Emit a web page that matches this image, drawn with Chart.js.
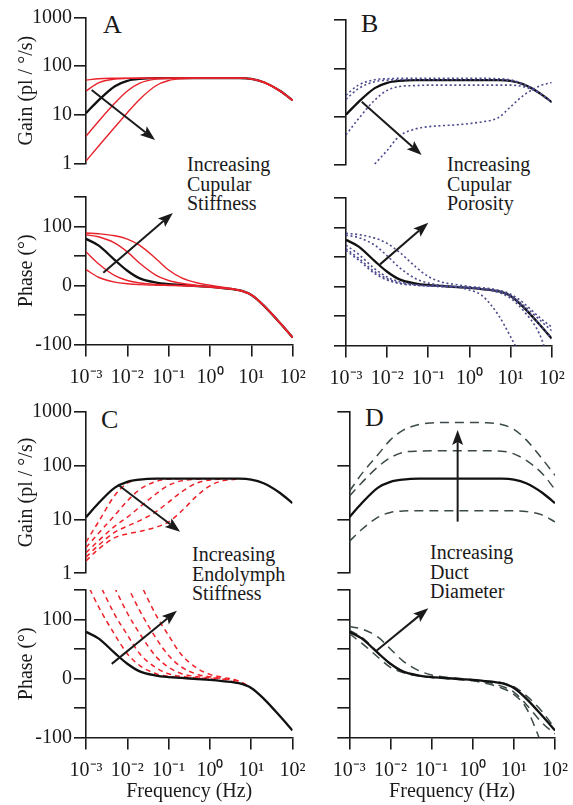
<!DOCTYPE html>
<html><head><meta charset="utf-8">
<script src="https://cdn.jsdelivr.net/npm/chart.js@4"></script>
<style>
html,body{margin:0;padding:0;background:#fff;}
body{width:573px;height:805px;position:relative;overflow:hidden;font-family:"Liberation Serif","Times New Roman",serif;color:#1a1a1a;}
canvas{position:absolute;}
.lbl{position:absolute;font-size:26px;line-height:26px;white-space:nowrap;}
.note{position:absolute;font-size:20px;line-height:19.5px;white-space:nowrap;}
</style></head><body>
<div class="lbl" style="left:103px;top:12px;">A</div>
<div class="lbl" style="left:361px;top:11px;">B</div>
<div class="lbl" style="left:101px;top:407px;">C</div>
<div class="lbl" style="left:365px;top:405px;">D</div>
<div class="note" style="left:187px;top:155px;">Increasing<br>Cupular<br>Stiffness</div>
<div class="note" style="left:447px;top:155px;">Increasing<br>Cupular<br>Porosity</div>
<div class="note" style="left:192px;top:545px;">Increasing<br>Endolymph<br>Stiffness</div>
<div class="note" style="left:430px;top:543px;">Increasing<br>Duct<br>Diameter</div>
<script>
// ---------- data ----------
const freq = [0.001,0.002,0.005,0.01,0.02,0.05,0.1,0.2,0.5,1,2,5,10,20,50,100];
const xTickValues = [0.001,0.01,0.1,1,10,100];
const xTickLabels = ['10\u207B\u00B3','10\u207B\u00B2','10\u207B\u00B9','10\u2070','10\u00B9','10\u00B2'];
const gainTickValues = [1,10,100,1000];
const gainTickLabels = ['1','10','100','1000'];
const phaseTickValues = [-100,-50,0,50,100,150];
const phaseTickLabels = ['-100','','0','','100',''];

// reference (black) model
const refGain  = [11,20,39,50,55,57,57,57,57,57,57,57,55,47,31,20];
const refPhase = [79,68,43,25,12,5,2.5,1,-1,-2.5,-4.5,-8,-16,-34,-64,-88];

// A: cupular stiffness (red solid)
const stiffGain1 = [52,55.5,56.7,57,57,57,57,57,57,57,57,57,55,47,31,20];
const stiffGain2 = [31,45.6,54.6,56.3,56.8,57,57,57,57,57,57,57,55,47,31,20];
const stiffGain3 = [3.7,7.4,17.6,31,45,54.5,56.4,56.8,57,57,57,57,55,47,31,20];
const stiffGain4 = [1.15,2.3,5.7,11.2,21.2,40.3,51,55.3,56.7,57,57,57,55,47,31,20];
const stiffPhase1 = [27,14,5.7,3,1.5,0.5,0,-0.5,-1.5,-2.5,-4.5,-8,-16,-34,-64,-88];
const stiffPhase2 = [57,37,16.7,8.5,4.3,1.7,0.7,0,-1.3,-2.5,-4.5,-8,-16,-34,-64,-88];
const stiffPhase3 = [86,82.6,72,57,37.6,17,8.5,3.8,0,-2,-4.5,-8,-16,-34,-64,-88];
const stiffPhase4 = [89,87.7,84.3,78.7,68,45,26.3,13.4,4.2,0.5,-3,-8,-16,-34,-64,-88];

// B: cupular porosity (blue dotted)
const poroGain1 = [28,45,58,61,62,62,62,62,62,62,62,61,58,47,31,20];
const poroGain2 = [23,38,53,57,58,58,58,58,58,58,58,57.5,55,47,31,20];
const poroGain3 = [4.2,9,22,35,42,44,45,45,45,45,45,45,45,42,31,20];
const poroGain4 = [null,null,1.05,2.0,4.0,5.6,6.2,6.5,6.8,7.2,7.8,9.5,16,27,43,51];
const poroPhase1 = [90,88,82,73,58,33,17,8,3,0,-2,-6,-13,-27,-52,-69];
const poroPhase2 = [87,83,70,52,32,13,6,2,-1,-6,-15,-48,-85,-125,null,null];
const poroPhase3 = [70,55,30,16,8,3,1,0.5,0,-2,-4,-8,-16,-31,-56,-75];
const poroPhase4 = [64,48,25,13,6,2.5,1,0,-1,-2,-4,-10,-20,-40,-80,-140];
const poroPhase5 = [61,45,22,11,5,2,1,0,-1,-2.5,-4.5,-8,-16,-34,-64,-88];

// C: endolymph stiffness (red dashed)
const endoGain1 = [3.8,9,28,47,55,57,null,null,null,null,null,null,null,null,null,null];
const endoGain2 = [3,5.5,12,22,36,51,56,57,null,null,null,null,null,null,null,null];
const endoGain3 = [2.4,4,7.5,11,17,30,43,52,56,57,null,null,null,null,null,null];
const endoGain4 = [2,3.3,5.8,7.5,9.5,14,21,32,48,54,56.5,null,null,null,null,null];
const endoGain5 = [1.7,2.8,4.6,5.4,6,7.2,9,14,28,42,52,56,null,null,null,null];
const endoPhase1 = [165,122,74,42,22,8,3.5,1.5,-0.5,-2.5,null,null,null,null,null,null];
const endoPhase2 = [206,164,108,74,42,18,8,3.5,1,-0.5,-4.5,null,null,null,null,null];
const endoPhase3 = [null,209,153,111,76,37,19,8.5,3,1.2,-1,-8,null,null,null,null];
const endoPhase4 = [null,null,199,157,115,68,39,20,7,2.8,0,-5,-16,null,null,null];
const endoPhase5 = [null,null,null,205,163,107,73,41,17,7,2,-4,-16,null,null,null];

// D: duct diameter (grey dashed)
const ductGain1 = [3.9,6.5,11,13.5,14.3,14.5,14.5,14.5,14.5,14.5,14.5,14.5,14.5,14,12,9];
const ductGain2 = [27,48,95,140,175,186,188,188,188,188,188,185,165,125,70,36];
const ductGain3 = [33,70,160,300,450,580,620,630,630,630,625,580,470,300,130,66];
const ductPhase1 = [88,84,70,50,30,13,6,2.5,0,-2,-4,-7,-14,-29,-57,-85];
const ductPhase2 = [82,70,44,24,12,5,2,0.5,-1,-3,-6,-13,-23,-44,-76,-94];
const ductPhase3 = [76,60,36,19,10,4,1.5,0,-2,-4,-8,-16,-27,-50,-115,null];

// arrows in data coordinates [freq, value]
const arrowAGain  = [[0.00137,32.6],[0.0469,3.1]];
const arrowAPhase = [[0.00262,21.5],[0.126,123]];
const arrowBGain  = [[0.00241,20.4],[0.069,1.61]];
const arrowBPhase = [[0.0067,37.5],[0.1,108]];
const arrowCGain  = [[0.00607,43.5],[0.19,5.9]];
const arrowCPhase = [[0.0042,24.8],[0.159,115]];
const arrowDGain  = [[0.43,9.1],[0.43,455]];
const arrowDPhase = [[0.00464,47.6],[0.083,119]];

// ---------- styles ----------
const INK = '#1a1a1a';
const FONT = {family:'"Liberation Serif","Times New Roman",serif', size:20, lineHeight:1.2};
const STY = {
  ref:  {borderColor:'#111111', borderWidth:2.3},
  red:  {borderColor:'#e8222b', borderWidth:1.4},
  dot:  {borderColor:'#4a4a8e', borderWidth:1.6, borderDash:[2,2.6]},
  rdash:{borderColor:'#ee2028', borderWidth:1.5, borderDash:[5,4]},
  gdash:{borderColor:'#3b4a48', borderWidth:1.5, borderDash:[9,6]}
};

function series(arr, sty){
  return Object.assign({
    data: freq.map((f,i)=>({x:f, y:arr[i]})),
    pointRadius:0, fill:false, cubicInterpolationMode:'monotone', spanGaps:false
  }, sty);
}

function arrowPlugin(arrows){
  return {
    id:'arrows',
    afterDatasetsDraw(chart){
      const ctx = chart.ctx, xs = chart.scales.x, ys = chart.scales.y;
      arrows.forEach(a=>{
        const x1 = xs.getPixelForValue(a[0][0]), y1 = ys.getPixelForValue(a[0][1]);
        const x2 = xs.getPixelForValue(a[1][0]), y2 = ys.getPixelForValue(a[1][1]);
        const ang = Math.atan2(y2-y1, x2-x1), L = 15, W = 5.5;
        const bx = x2 - L*Math.cos(ang), by = y2 - L*Math.sin(ang);
        ctx.save();
        ctx.strokeStyle = INK; ctx.fillStyle = INK; ctx.lineWidth = 2;
        ctx.beginPath(); ctx.moveTo(x1,y1); ctx.lineTo(bx + 3*Math.cos(ang), by + 3*Math.sin(ang)); ctx.stroke();
        ctx.beginPath(); ctx.moveTo(x2,y2);
        ctx.lineTo(bx - W*Math.sin(ang), by + W*Math.cos(ang));
        ctx.lineTo(bx + 3*Math.cos(ang), by + 3*Math.sin(ang));
        ctx.lineTo(bx + W*Math.sin(ang), by - W*Math.cos(ang));
        ctx.closePath(); ctx.fill();
        ctx.restore();
      });
    }
  };
}

function makeChart(rect, area, o){
  const cv = document.createElement('canvas');
  cv.width = rect.w; cv.height = rect.h;
  cv.style.left = rect.x+'px'; cv.style.top = rect.y+'px';
  cv.style.width = rect.w+'px'; cv.style.height = rect.h+'px';
  document.body.appendChild(cv);
  const yw = area.L - rect.x, padTop = area.T - rect.y, padRight = rect.x + rect.w - area.R;
  const bottomSpace = rect.y + rect.h - area.B;
  const isGain = o.kind === 'gain';
  const yTicks = isGain ? gainTickValues : phaseTickValues;
  const yLabels = isGain ? gainTickLabels : phaseTickLabels;
  const axisLine = {display:true, color:INK, width:1.6};
  const gridOpt = {display:true, drawOnChartArea:false, drawTicks:true, tickLength:12, color:INK, lineWidth:1.6};
  return new Chart(cv, {
    type:'line',
    data:{datasets:o.datasets},
    options:{
      responsive:false, animation:false, events:[],
      layout:{padding:{left:0, top:padTop, right:padRight, bottom: isGain ? bottomSpace : 0}},
      plugins:{legend:{display:false}, tooltip:{enabled:false}, title:{display:false}},
      scales:{
        x:{
          type:'logarithmic', min:0.001, max:100, display: !isGain,
          afterBuildTicks: s => { s.ticks = xTickValues.map(v=>({value:v})); },
          afterFit: s => { if (!isGain) { s.height = bottomSpace; } else { s.height = 0; } s.paddingLeft = 0; s.paddingRight = 0; },
          ticks:{autoSkip:false, maxRotation:0, padding:9, color:INK, font:FONT,
                 callback:(v,i)=> xTickLabels[i]},
          grid:gridOpt, border:axisLine,
          title:{display: !!o.xTitle, text:o.xTitle || '', color:INK, font:FONT, padding:{top:0,bottom:1}}
        },
        y:{
          type: isGain ? 'logarithmic' : 'linear',
          min: isGain ? 1 : -100, max: isGain ? 1000 : 150,
          afterBuildTicks: s => { s.ticks = yTicks.map(v=>({value:v})); },
          afterFit: s => { s.width = yw; s.paddingTop = 0; s.paddingBottom = 0; },
          ticks:{autoSkip:false, padding:2, color:INK, font:FONT,
                 callback:(v,i)=> o.yLabels ? yLabels[i] : ''},
          grid:gridOpt, border:axisLine,
          title:{display: !!o.yTitle, text:o.yTitle || '', color:INK, font:FONT, padding:{top:14.5,bottom:0}}
        }
      }
    },
    plugins:[arrowPlugin(o.arrows)]
  });
}

Chart.defaults.font.family = FONT.family;

const LC = {x:0, w:312}, RC = {x:300, w:273};
const GAIN_TITLE = 'Gain (pl / \u00B0/s)', PHASE_TITLE = 'Phase (\u00B0)', FREQ_TITLE = 'Frequency (Hz)';

// A
makeChart({x:LC.x, y:0, w:LC.w, h:180}, {L:86, R:292.7, T:17.3, B:164}, {
  kind:'gain', yLabels:true, yTitle:GAIN_TITLE, arrows:[arrowAGain],
  datasets:[series(stiffGain1,STY.red),series(stiffGain2,STY.red),series(stiffGain3,STY.red),series(stiffGain4,STY.red),series(refGain,STY.ref)]
});
makeChart({x:LC.x, y:185, w:LC.w, h:215}, {L:86, R:292.7, T:197, B:344.5}, {
  kind:'phase', yLabels:true, yTitle:PHASE_TITLE, arrows:[arrowAPhase],
  datasets:[series(stiffPhase1,STY.red),series(stiffPhase2,STY.red),series(stiffPhase3,STY.red),series(stiffPhase4,STY.red),series(refPhase,STY.ref)]
});
// B
makeChart({x:RC.x, y:0, w:RC.w, h:180}, {L:346, R:551.7, T:20, B:165}, {
  kind:'gain', yLabels:false, arrows:[arrowBGain],
  datasets:[series(poroGain1,STY.dot),series(poroGain2,STY.dot),series(poroGain3,STY.dot),series(poroGain4,STY.dot),series(refGain,STY.ref)]
});
makeChart({x:RC.x, y:185, w:RC.w, h:215}, {L:346, R:551.7, T:198, B:345.5}, {
  kind:'phase', yLabels:false, arrows:[arrowBPhase],
  datasets:[series(poroPhase1,STY.dot),series(poroPhase2,STY.dot),series(poroPhase3,STY.dot),series(poroPhase4,STY.dot),series(poroPhase5,STY.dot),series(refPhase,STY.ref)]
});
// C
makeChart({x:LC.x, y:395, w:LC.w, h:190}, {L:86, R:292.5, T:411.7, B:573.3}, {
  kind:'gain', yLabels:true, yTitle:GAIN_TITLE, arrows:[arrowCGain],
  datasets:[series(refGain,STY.ref),series(endoGain1,STY.rdash),series(endoGain2,STY.rdash),series(endoGain3,STY.rdash),series(endoGain4,STY.rdash),series(endoGain5,STY.rdash)]
});
makeChart({x:LC.x, y:580, w:LC.w, h:225}, {L:86, R:292.5, T:590, B:737.5}, {
  kind:'phase', yLabels:true, yTitle:PHASE_TITLE, xTitle:FREQ_TITLE, arrows:[arrowCPhase],
  datasets:[series(refPhase,STY.ref),series(endoPhase1,STY.rdash),series(endoPhase2,STY.rdash),series(endoPhase3,STY.rdash),series(endoPhase4,STY.rdash),series(endoPhase5,STY.rdash)]
});
// D
makeChart({x:RC.x, y:395, w:RC.w, h:190}, {L:349.3, R:555, T:411.7, B:573.3}, {
  kind:'gain', yLabels:false, arrows:[arrowDGain],
  datasets:[series(refGain,STY.ref),series(ductGain1,STY.gdash),series(ductGain2,STY.gdash),series(ductGain3,STY.gdash)]
});
makeChart({x:RC.x, y:580, w:RC.w, h:225}, {L:349.3, R:555, T:590, B:737.5}, {
  kind:'phase', yLabels:false, xTitle:FREQ_TITLE, arrows:[arrowDPhase],
  datasets:[series(refPhase,STY.ref),series(ductPhase1,STY.gdash),series(ductPhase2,STY.gdash),series(ductPhase3,STY.gdash)]
});
</script>
</body></html>
